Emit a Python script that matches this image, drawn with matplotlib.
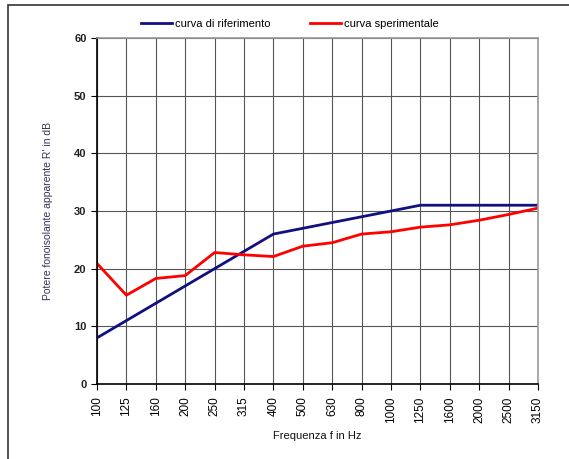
import matplotlib
matplotlib.use('Agg')
import matplotlib.pyplot as plt
from matplotlib.patches import Rectangle

plt.rcParams['font.family'] = ['Liberation Sans', 'DejaVu Sans']

freqs = ['100', '125', '160', '200', '250', '315', '400', '500', '630',
         '800', '1000', '1250', '1600', '2000', '2500', '3150']
riferimento = [8, 11, 14, 17, 20, 23, 26, 27, 28, 29, 30, 31, 31, 31, 31, 31]
sperimentale = [20.9, 15.4, 18.3, 18.8, 22.8, 22.4, 22.1, 23.9, 24.5,
                26.0, 26.4, 27.2, 27.6, 28.4, 29.4, 30.5]

W, H = 569, 459
fig = plt.figure(figsize=(W / 100, H / 100), dpi=100)

# outer frame around the whole chart
fig.patches.append(Rectangle((8 / W, -0.05), 1.2, 1 - 5 / H + 0.05,
                             transform=fig.transFigure, fill=False,
                             edgecolor='#333333', linewidth=1.2))

ax = fig.add_axes([97 / W, 1 - 384 / H, (538 - 97) / W, (384 - 38) / H])
x = range(len(freqs))
ax.plot(x, riferimento, color='#101080', lw=2, label='curva di riferimento')
ax.plot(x, sperimentale, color='#ff0000', lw=2, label='curva sperimentale')

ax.set_xlim(0, len(freqs) - 1)
ax.set_ylim(0, 60)
ax.set_yticks(range(0, 61, 10))
ax.set_xticks(list(x))
ax.set_xticklabels(freqs, rotation=90, fontsize=8.5)
ax.tick_params(axis='y', labelsize=8, length=4, width=0.8)
ax.tick_params(axis='x', length=4, width=0.8, pad=5)
for t in ax.get_yticklabels():
    t.set_fontweight('bold')
    t.set_color('#222222')

ax.grid(True, color='#555555', linewidth=0.8)
ax.set_axisbelow(True)
for s in ['left', 'bottom']:
    ax.spines[s].set_color('black')
    ax.spines[s].set_linewidth(1.2)
for s in ['top', 'right']:
    ax.spines[s].set_color('#999999')
    ax.spines[s].set_linewidth(1.2)

ax.set_ylabel('Potere fonoisolante apparente R\' in dB', fontsize=7.5, color='#333355')
ax.yaxis.set_label_coords(-0.1, 0.5)
ax.set_xlabel('Frequenza f in Hz', fontsize=8, color='#111111')
ax.xaxis.set_label_coords(0.5, -0.135)

fig.legend(loc='center', bbox_to_anchor=(290 / W, 1 - 24 / H), ncol=2,
           frameon=False, fontsize=8, handlelength=2.8, columnspacing=3.5,
           handletextpad=0.3)

fig.savefig('out.png', dpi=100)
